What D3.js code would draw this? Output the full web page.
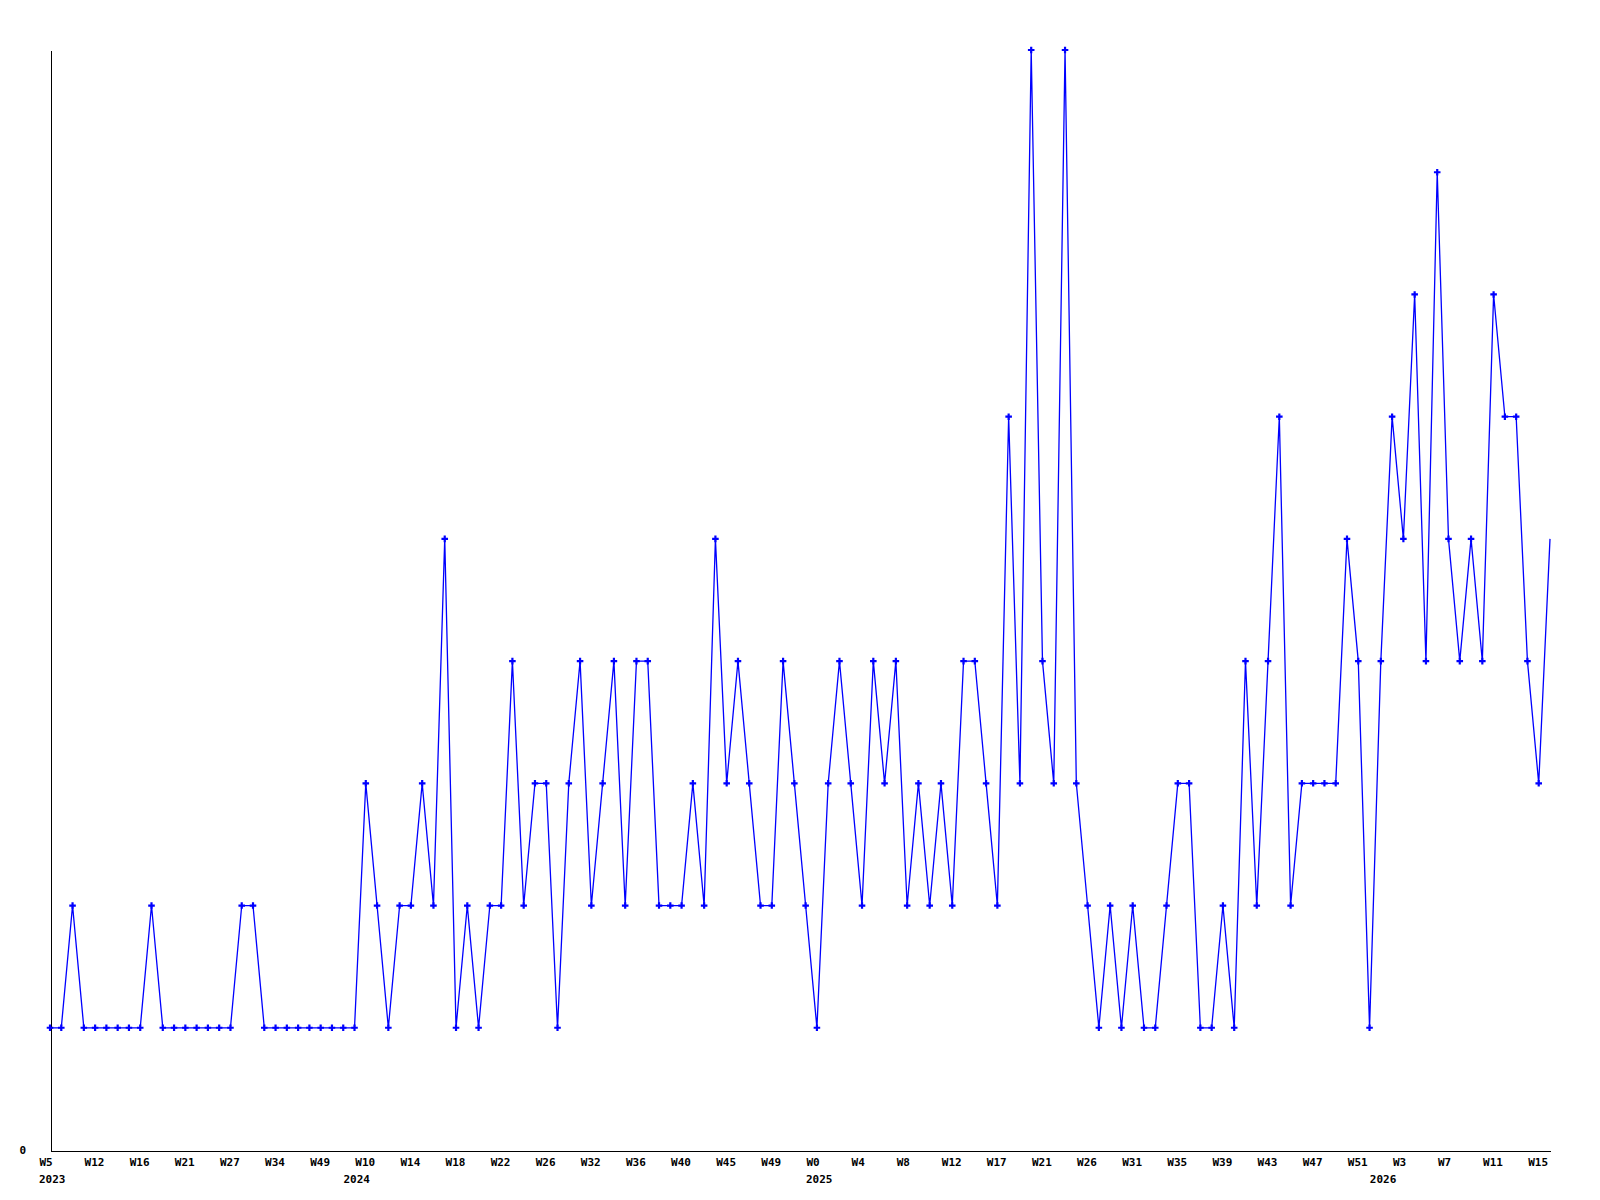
<!DOCTYPE html>
<html>
<head>
<meta charset="utf-8">
<script src="https://cdn.jsdelivr.net/npm/d3@7"></script>
<style>
  body { margin: 0; background: #fff; }
  text { font-family: "DejaVu Sans Mono", monospace; font-weight: bold; font-size: 11px; fill: #000; }
</style>
</head>
<body>
<div id="chart"></div>
<script>
// weekly counts, one per point
var counts = [
    1,1,2,1,1,1,1,1,1,2,1,1,1,1,1,1,1,2,2,1,1,1,1,1,
    1,1,1,1,
    3,2,1,2,2,3,2,5,1,2,1,2,2,4,2,3,3,
    1,3,4,2,3,4,2,4,4,2,2,2,3,2,5,3,4,3,2,2,4,3,
    2,1,3,4,3,2,4,3,4,2,3,2,3,2,4,4,3,2,6,3,9,4,
    3,9,3,2,1,2,1,2,1,1,2,3,3,1,1,2,1,4,2,4,6,2,
    3,3,3,3,5,4,1,4,6,5,7,4,8,5,4,5,4,7,6,6,4,3,5
];

// week labels, shown on every 4th point
var weekLabels = ["W5","W12","W16","W21","W27","W34","W49","W10","W14","W18","W22",
    "W26","W32","W36","W40","W45","W49","W0","W4","W8","W12","W17","W21",
    "W26","W31","W35","W39","W43","W47","W51","W3","W7","W11","W15"];
var weekStep = 4;

// year labels and the point where each year starts
var yearLabels = ["2023", "2024", "2025", "2026"];
var yearStart = [0, 27, 68, 118];

var width = 1600, height = 1200;
var svg = d3.select("#chart").append("svg")
    .attr("width", width)
    .attr("height", height);

var x = d3.scalePoint()
    .domain(d3.range(counts.length))
    .range([50, 1550]);

var y = d3.scaleLinear()
    .domain([0, 9])
    .range([1150, 50]);

// X axis with week labels
var xAxis = d3.axisBottom(x)
    .tickValues(weekLabels.map(function(d, i) { return i * weekStep; }))
    .tickFormat(function(d) { return weekLabels[d / weekStep]; })
    .tickSizeInner(0)
    .tickSizeOuter(0);

var gx = svg.append("g")
    .attr("transform", "translate(0,1150.5)")
    .call(xAxis);
gx.attr("font-family", null).attr("font-size", null);
gx.select(".domain")
    .attr("stroke", "#000")
    .attr("stroke-width", 1)
    .attr("shape-rendering", "crispEdges");
gx.selectAll(".tick text")
    .attr("text-anchor", "start")
    .attr("x", -11)
    .attr("y", 8)
    .attr("dy", "0.71em");

// year labels under the weeks
svg.selectAll(".year")
    .data(yearLabels)
    .enter()
    .append("text")
    .attr("class", "year")
    .attr("x", function(d, i) { return x(yearStart[i]) - 11; })
    .attr("y", 1183)
    .text(function(d) { return d; });

// Y axis, only zero labelled
var gy = svg.append("g")
    .attr("transform", "translate(50.5,0)")
    .call(d3.axisLeft(y).tickValues([0]).tickSize(0).tickSizeOuter(0));
gy.attr("font-family", null).attr("font-size", null);
gy.select(".domain")
    .attr("stroke", "#000")
    .attr("stroke-width", 1)
    .attr("shape-rendering", "crispEdges");
gy.selectAll(".tick text")
    .attr("text-anchor", "start")
    .attr("x", -31)
    .attr("dy", "0.35em");

// line
svg.append("path")
    .datum(counts)
    .attr("fill", "none")
    .attr("stroke", "#0000ff")
    .attr("stroke-width", 1.3)
    .attr("d", d3.line()
        .x(function(d, i) { return x(i); })
        .y(function(d) { return y(d); }));

// markers (last point has none)
svg.selectAll(".dot")
    .data(counts.slice(0, counts.length - 1))
    .enter()
    .append("path")
    .attr("class", "dot")
    .attr("d", d3.symbol().type(d3.symbolCross).size(24))
    .attr("transform", function(d, i) { return "translate(" + x(i) + "," + y(d) + ")"; })
    .attr("fill", "#0000ff");
</script>
</body>
</html>
